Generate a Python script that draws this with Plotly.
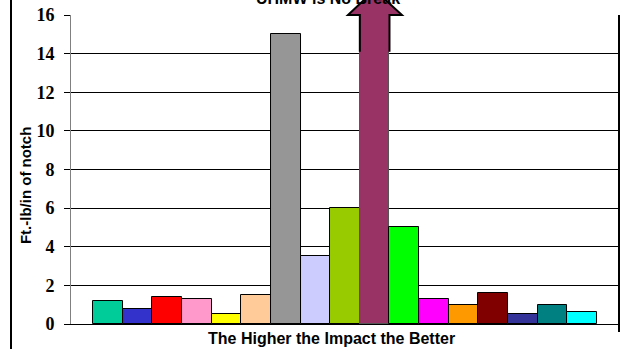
import plotly.graph_objects as go

# Notched Izod impact strength, one bar per material
values = [1.2, 0.8, 1.4, 1.3, 0.5, 1.5, 15.0, 3.5, 6.0, 17.0, 5.0, 1.3, 1.0, 1.6, 0.5, 1.0, 0.6]
colors = ["#00CC99", "#3333CC", "#FF0000", "#FF99CC", "#FFFF00", "#FFCC99", "#969696",
          "#CCCCFF", "#99CC00", "#993366", "#00FF00", "#FF00FF", "#FF9900", "#800000",
          "#333399", "#008080", "#00FFFF"]
no_break_index = 9          # UHMW bar, drawn with an arrow past the top of the scale
y_ticks = [0, 2, 4, 6, 8, 10, 12, 14, 16]
y_max = 16

positions = list(range(len(values)))
outline = ["#555555" if i == no_break_index else "#000000" for i in positions]

fig = go.Figure(go.Bar(
    x=positions, y=values, width=1.0,
    marker=dict(color=colors, line=dict(color=outline, width=1)),
    showlegend=False, hoverinfo="skip",
))

side = 0.742   # empty space either side of the bar group, in bar widths
x0_dom = 0.1002  # plot area starts after the y-axis labels; paper x=0 is the chart frame
fig.update_layout(
    width=622, height=349,
    margin=dict(l=10, r=3, t=15, b=25),
    paper_bgcolor="white", plot_bgcolor="white",
    bargap=0,
    xaxis=dict(domain=[x0_dom, 1], range=[-0.5 - side, len(values) - 0.5 + side],
               showticklabels=False, ticks="", showgrid=False, zeroline=False,
               showline=True, linecolor="#000000", linewidth=1),
    yaxis=dict(range=[0, y_max], tickvals=y_ticks, ticktext=[str(v) for v in y_ticks],
               ticks="outside", ticklen=6, tickcolor="#000000", tickwidth=1,
               ticklabelstandoff=6,
               tickfont=dict(family="Liberation Serif", size=18, color="#000000", weight=700),
               showgrid=True, gridcolor="#000000", gridwidth=1, zeroline=False,
               showline=True, linecolor="#808080", linewidth=1),
)

# arrow on the UHMW bar: "No Break"
cx = no_break_index
shaft_from = 14.1 / y_max
head_base = 1.0
head_tip = 1.081
path = (f"M {cx - 0.5},{shaft_from} L {cx - 0.5},{head_base} L {cx - 0.9},{head_base} "
        f"L {cx},{head_tip} L {cx + 0.92},{head_base} L {cx + 0.5},{head_base} "
        f"L {cx + 0.5},{shaft_from}")
fig.add_shape(type="path", path=path, xref="x", yref="paper",
              fillcolor="#993366", line=dict(color="#000000", width=2), layer="above")

# right frame line
fig.add_shape(type="line", xref="paper", yref="paper", x0=1, x1=1, y0=-0.026, y1=1,
              line=dict(color="#000000", width=2))

# left frame line: a narrow filled box running the full chart height
fig.add_annotation(text=" ", xref="paper", yref="paper", x=0.0016, y=0.4838,
                   xanchor="center", yanchor="middle", showarrow=False,
                   width=2, height=360, bgcolor="#000000", borderpad=0, borderwidth=0)

bold_sans = dict(family="Liberation Sans", color="#000000", weight="bold")
fig.add_annotation(text="UHMW is No Break", xref="paper", yref="paper",
                   x=0.522, y=1.02, xanchor="center", yanchor="bottom",
                   showarrow=False, font=dict(size=16, **bold_sans))
fig.add_annotation(text="The Higher the Impact the Better", xref="paper", yref="paper",
                   x=0.528, y=-0.047, xanchor="center", yanchor="middle",
                   showarrow=False, font=dict(size=16, **bold_sans))
fig.add_annotation(text="Ft.-lb/in of notch", xref="paper", yref="paper",
                   x=0.0255, y=0.448, xanchor="center", yanchor="middle", textangle=-90,
                   showarrow=False, font=dict(size=15, **bold_sans))

fig.write_html("out.html")
